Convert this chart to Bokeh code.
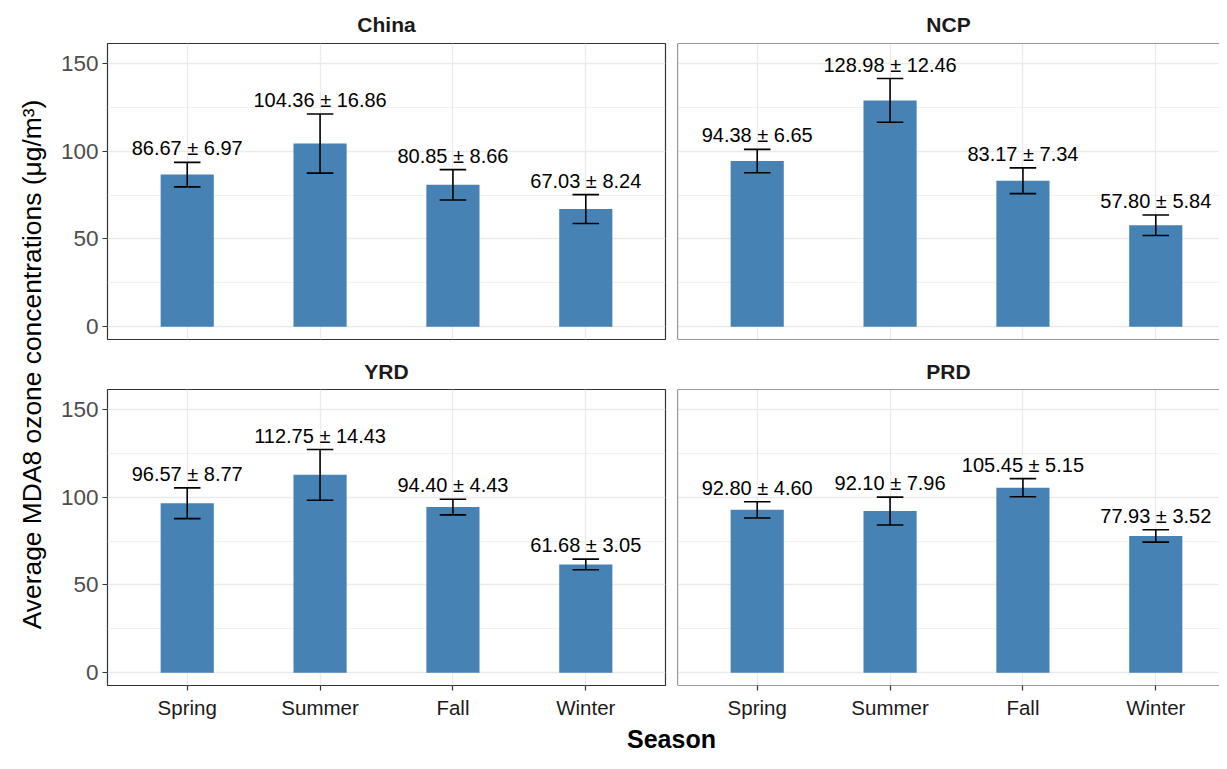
from math import pi
from bokeh.plotting import figure
from bokeh.models import Range1d, FixedTicker, Grid, Span, Label, ColumnDataSource
from bokeh.layouts import row, column
from bokeh.core.properties import value
from bokeh.embed import file_html
from bokeh.resources import INLINE

# ---------------- data ----------------
seasons = ["Spring", "Summer", "Fall", "Winter"]
regions = ["China", "NCP", "YRD", "PRD"]
china_mean = [86.67, 104.36, 80.85, 67.03]
china_sd = [6.97, 16.86, 8.66, 8.24]
ncp_mean = [94.38, 128.98, 83.17, 57.80]
ncp_sd = [6.65, 12.46, 7.34, 5.84]
yrd_mean = [96.57, 112.75, 94.40, 61.68]
yrd_sd = [8.77, 14.43, 4.43, 3.05]
prd_mean = [92.80, 92.10, 105.45, 77.93]
prd_sd = [4.60, 7.96, 5.15, 3.52]
y_ticks = [0, 50, 100, 150]
y_minor = [25, 75, 125]

FONT = "Liberation Sans"
BAR = "#4682B4"
BORDER = "#333333"
GRIDC = "#EBEBEB"
YMIN, YMAX = -7.3, 161.4
FRAME_W = 558
FRAME_H = 296
UNITS = 4.2
YLAB_W = 48
TOTAL_W = 1219
TOTAL_H = 753


def make_panel(name, means, sds, left_col, bottom_row):
    xs = list(range(1, len(seasons) + 1))
    if left_col:
        mbl, mbr = 107 - YLAB_W, 6
        w = mbl + FRAME_W + mbr
        xr = Range1d(0.4, 0.4 + UNITS)
    else:
        left_w = (107 - YLAB_W) + FRAME_W + 6
        w = TOTAL_W - YLAB_W - left_w
        mbl, mbr = 6, 0
        fw = w - mbl - mbr
        xr = Range1d(0.4, 0.4 + fw * UNITS / FRAME_W)
    if bottom_row:
        mbt, mbb = 46, 36
    else:
        mbt, mbb = 43, 4
    h = mbt + FRAME_H + mbb
    p = figure(width=w, height=h, x_range=xr, y_range=Range1d(YMIN, YMAX),
               output_backend="svg", toolbar_location=None,
               x_axis_location="below" if bottom_row else None,
               y_axis_location="left" if left_col else None,
               min_border_left=mbl, min_border_right=mbr,
               min_border_top=mbt, min_border_bottom=mbb,
               background_fill_color="white", border_fill_color="white")
    p.center = []
    p.add_layout(Grid(dimension=1, ticker=FixedTicker(ticks=y_ticks, minor_ticks=y_minor),
                      grid_line_color=GRIDC, grid_line_width=1.3,
                      minor_grid_line_color=GRIDC, minor_grid_line_width=0.7), "center")
    p.add_layout(Grid(dimension=0, ticker=FixedTicker(ticks=xs),
                      grid_line_color=GRIDC, grid_line_width=1.3), "center")
    if left_col:
        p.outline_line_color = BORDER
        p.outline_line_width = 1.2
    else:
        p.outline_line_color = None
        for loc, dim in [(0.4, "height"), (YMIN, "width"), (YMAX, "width")]:
            p.add_layout(Span(location=loc, dimension=dim, line_color=BORDER, line_width=1.2))

    src = ColumnDataSource(dict(
        x=xs, m=means,
        lo=[m - s for m, s in zip(means, sds)],
        hi=[m + s for m, s in zip(means, sds)],
        x0=[x - 0.1 for x in xs], x1=[x + 0.1 for x in xs],
        lab=["%.2f \u00b1 %.2f" % (m, s) for m, s in zip(means, sds)],
    ))
    p.vbar(x="x", top="m", bottom=0, width=0.4, source=src, fill_color=BAR, line_color=None)
    p.segment(x0="x", x1="x", y0="lo", y1="hi", source=src, line_color="black", line_width=1.6)
    p.segment(x0="x0", x1="x1", y0="hi", y1="hi", source=src, line_color="black", line_width=1.6)
    p.segment(x0="x0", x1="x1", y0="lo", y1="lo", source=src, line_color="black", line_width=1.6)
    p.text(x="x", y="hi", text="lab", source=src, text_font=value(FONT),
           text_font_size=value("20px"), text_color="black", text_align="center",
           text_baseline="alphabetic", y_offset=-14)

    p.title.text = name
    p.title.align = "center"
    p.title.text_font = FONT
    p.title.text_font_size = "21px"
    p.title.text_font_style = "bold"
    p.title.text_color = "#1A1A1A"
    p.title.standoff = 15 if not bottom_row else 13

    if left_col:
        ax = p.yaxis[0]
        ax.ticker = FixedTicker(ticks=y_ticks)
        ax.axis_line_color = None
        ax.major_tick_line_color = BORDER
        ax.major_tick_line_width = 1.2
        ax.major_tick_out = 5
        ax.major_tick_in = 0
        ax.minor_tick_out = 0
        ax.minor_tick_in = 0
        ax.major_label_standoff = 4
        ax.major_label_text_font = FONT
        ax.major_label_text_font_size = "22.5px"
        ax.major_label_text_color = "#4D4D4D"
    if bottom_row:
        ax = p.xaxis[0]
        ax.ticker = FixedTicker(ticks=xs)
        ax.major_label_overrides = {x: s for x, s in zip(xs, seasons)}
        ax.axis_line_color = None
        ax.major_tick_line_color = BORDER
        ax.major_tick_line_width = 1.2
        ax.major_tick_out = 5
        ax.major_tick_in = 0
        ax.minor_tick_out = 0
        ax.minor_tick_in = 0
        ax.major_label_standoff = 5
        ax.major_label_text_font = FONT
        ax.major_label_text_font_size = "20.5px"
        ax.major_label_text_color = "#1A1A1A"
    return p


tl = make_panel(regions[0], china_mean, china_sd, True, False)
tr = make_panel(regions[1], ncp_mean, ncp_sd, False, False)
bl = make_panel(regions[2], yrd_mean, yrd_sd, True, True)
br = make_panel(regions[3], prd_mean, prd_sd, False, True)

panels_h = tl.height + bl.height
frames_center = (43 + tl.height + 46 + FRAME_H) / 2.0

ylab = figure(width=YLAB_W, height=panels_h, x_range=Range1d(0, YLAB_W), y_range=Range1d(0, panels_h),
              output_backend="svg", toolbar_location=None,
              x_axis_location=None, y_axis_location=None, min_border=0,
              outline_line_color=None)
ylab.title = None
ylab.center = []
ylab.add_layout(Label(x=31, y=panels_h - frames_center, angle=pi / 2,
                      text="Average MDA8 ozone concentrations (\u03bcg/m\u00b3)",
                      text_font=FONT, text_font_size="26.4px", text_color="black",
                      text_align="center", text_baseline="middle"))

XLAB_H = TOTAL_H - panels_h
xlab = figure(width=TOTAL_W, height=XLAB_H, x_range=Range1d(0, TOTAL_W), y_range=Range1d(0, XLAB_H),
              output_backend="svg", toolbar_location=None,
              x_axis_location=None, y_axis_location=None, min_border=0,
              outline_line_color=None)
xlab.title = None
xlab.center = []
xlab.add_layout(Label(x=671, y=XLAB_H - 3, text="Season", text_font=FONT, text_font_size="25px",
                      text_font_style="bold", text_color="black",
                      text_align="center", text_baseline="top"))

layout = column(row(ylab, column(row(tl, tr), row(bl, br))), xlab)

open("out.html", "w").write(file_html(layout, INLINE))
